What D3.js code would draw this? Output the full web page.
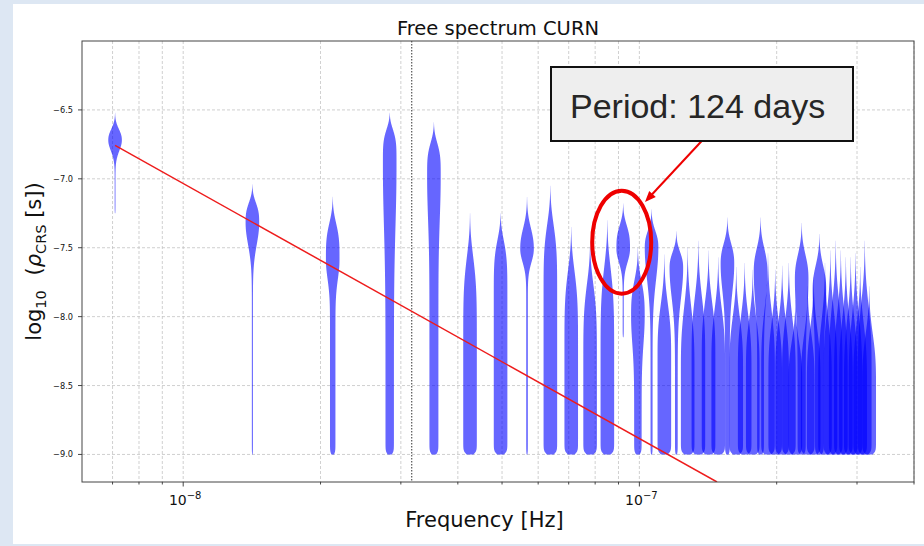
<!DOCTYPE html>
<html><head><meta charset="utf-8">
<script src="https://cdn.jsdelivr.net/npm/d3@7"></script>
<style>html,body{margin:0;padding:0;overflow:hidden;background:#dde7f3}</style>
</head><body><svg id="c" width="924" height="546"></svg>
<script>
// ---------------- data ----------------
const harmonics = [1,2,3,4,5,6,7,8,9,10,11,12,13,14,15,16,17,18,19,20,21,22,23,24,25,26,27,28,29,30,31,32,33,34,35,36,37,38,39,40,41,42,43,44,45];
const baseFrequency = 7.09e-9;                     // Hz, 1/T
// upper tip of each violin (log10 rho)
const tops = [-6.52,-7.04,-7.13,-6.52,-6.59,-7.25,-7.25,-7.13,-7.05,-7.35,-7.45,-7.30,-7.18,-7.50,-7.22,-7.55,-7.38,-7.50,-7.45,-7.52,-7.57,-7.28,-7.64,-7.61,-7.66,-7.28,-7.54,-7.66,-7.63,-7.61,-7.88,-7.32,-7.78,-7.71,-7.40,-7.61,-7.52,-7.45,-7.52,-7.57,-7.57,-7.54,-7.64,-7.45,-7.78];
// level of maximum width
const modes = [-6.72,-7.32,-7.59,-6.92,-6.99,-8.30,-7.95,-7.51,-7.90,-8.30,-8.40,-8.40,-7.51,-8.00,-7.50,-8.30,-7.65,-8.40,-8.30,-8.30,-8.35,-7.62,-8.40,-8.40,-8.40,-7.68,-8.40,-8.45,-8.45,-8.45,-8.50,-7.73,-8.50,-8.50,-7.81,-8.50,-8.45,-8.40,-8.45,-8.50,-8.50,-8.50,-8.50,-8.40,-8.50];
// flatness of the upper taper
const upperShape = [2.3,3.0,3.5,5.0,4.0,5.0,5.5,2.3,4.5,4.5,4.5,4.8,3.0,3.0,2.5,3.0,2.5,3.0,3.0,3.0,3.0,2.5,3.0,3.0,3.0,2.5,3.0,3.0,3.0,3.0,3.0,2.5,3.0,3.0,2.5,3.0,3.0,3.0,3.0,3.0,3.0,3.0,3.0,3.0,3.0];
// relative width of the lower tail (1 = stays full width down to the bottom)
const lowerWidth = [0.06,0.08,0.40,0.62,0.66,1,1,0.12,1,1,1,1,0.08,0.55,0.15,1,0.20,1,1,1,1,0.35,1,1,1,0.50,1,1,1,1,1,0.60,1,1,0.65,1,1,1,1,1,1,1,1,1,1];
// level where the lower tail has reached its width
const knees = [-6.95,-7.80,-8.00,-8.20,-7.90,-8.30,-7.95,-7.80,-7.90,-8.30,-8.40,-8.40,-7.80,-8.60,-8.20,-8.30,-8.30,-8.40,-8.30,-8.30,-8.35,-8.20,-8.40,-8.40,-8.40,-8.30,-8.40,-8.45,-8.45,-8.45,-8.50,-8.40,-8.50,-8.50,-8.40,-8.50,-8.45,-8.40,-8.45,-8.50,-8.50,-8.50,-8.50,-8.40,-8.50];
// lower end of each violin
const bottoms = [-7.25,-9.0,-9.0,-9.0,-9.0,-9.0,-9.0,-9.0,-9.0,-9.0,-9.0,-9.0,-8.15,-9.0,-9.0,-9.0,-9.0,-9.0,-9.0,-9.0,-9.0,-9.0,-9.0,-9.0,-9.0,-9.0,-9.0,-9.0,-9.0,-9.0,-9.0,-9.0,-9.0,-9.0,-9.0,-9.0,-9.0,-9.0,-9.0,-9.0,-9.0,-9.0,-9.0,-9.0,-9.0];

const yTicks = [-9.0,-8.5,-8.0,-7.5,-7.0,-6.5];
const xMajorTicks = [1e-8, 1e-7];
const xMajorExponents = [-8, -7];
const xMinorTicks = [7e-9,8e-9,9e-9,2e-8,3e-8,4e-8,5e-8,6e-8,7e-8,8e-8,9e-8,2e-7,3e-7,4e-7];
const yearFrequency = 3.17e-8;
const powerLawF = [7.09e-9, 1.48e-7];
const powerLawRho = [-6.758, -9.2];
const titleText = "Free spectrum CURN";
const xLabelText = "Frequency [Hz]";
const annotationText = "Period: 124 days";
const highlightHarmonic = 13;

// ---------------- layout ----------------
const W = 924, H = 546;
const L = 82, R = 914, T = 41, B = 482;
const svg = d3.select("#c");
const x = d3.scaleLog().domain([6e-9, 4e-7]).range([L, R]);
const y = d3.scaleLinear().domain([-9.2, -6.0]).range([B, T]);
const FONT = "DejaVu Sans, sans-serif";

svg.append("rect").attr("width", W).attr("height", H).attr("fill", "#dde7f3");
svg.append("rect").attr("x", 13).attr("y", 4).attr("width", W - 13).attr("height", 540).attr("fill", "#ffffff");

svg.append("defs").append("clipPath").attr("id", "plotclip")
  .append("rect").attr("x", L).attr("y", T).attr("width", R - L).attr("height", B - T);

// grid
const grid = svg.append("g").attr("stroke", "#c4c4c4").attr("stroke-width", 0.8).attr("stroke-dasharray", "3,2");
xMajorTicks.concat(xMinorTicks).forEach(f => {
  grid.append("line").attr("x1", x(f)).attr("x2", x(f)).attr("y1", T).attr("y2", B);
});
yTicks.forEach(v => {
  grid.append("line").attr("x1", L).attr("x2", R).attr("y1", y(v)).attr("y2", y(v));
});

// 1/yr line
svg.append("line").attr("x1", x(yearFrequency)).attr("x2", x(yearFrequency)).attr("y1", T).attr("y2", B)
  .attr("stroke", "#333").attr("stroke-width", 1).attr("stroke-dasharray", "1.5,1.5");

// violins
const halfW = 6.8;
function widthAt(i, v) {
  let w;
  if (v >= modes[i]) {
    const t = (v - modes[i]) / (tops[i] - modes[i]);
    w = Math.exp(-4.6 * Math.pow(t, upperShape[i]));
  } else {
    const lw = lowerWidth[i];
    if (lw >= 1) w = 1;
    else {
      const u = (modes[i] - v) / (modes[i] - knees[i]);
      w = lw + (1 - lw) * Math.exp(-4.6 * u * u);
    }
  }
  w *= 0.5 + 0.5 * Math.tanh((v - bottoms[i]) / 0.025);
  return w;
}
const vg = svg.append("g").attr("clip-path", "url(#plotclip)");
harmonics.forEach((k, i) => {
  const f = k * baseFrequency;
  const cx = x(f);
  const n = Math.ceil((tops[i] - bottoms[i]) / 0.004);
  const pts = d3.range(n + 1).map(j => {
    const v = bottoms[i] + (tops[i] - bottoms[i]) * j / n;
    return { v, w: widthAt(i, v) };
  });
  const area = d3.area().curve(d3.curveLinear)
    .y(d => y(d.v)).x0(d => cx - halfW * d.w).x1(d => cx + halfW * d.w);
  vg.append("path").attr("d", area(pts)).attr("fill", "#0000ff").attr("fill-opacity", 0.6);
});

// power law line
vg.append("path")
  .attr("d", d3.line().x(d => x(d[0])).y(d => y(d[1]))(powerLawF.map((f, i) => [f, powerLawRho[i]])))
  .attr("stroke", "#ee1c1c").attr("stroke-width", 1.5).attr("fill", "none");

// spines
svg.append("rect").attr("x", L).attr("y", T).attr("width", R - L).attr("height", B - T)
  .attr("fill", "none").attr("stroke", "#444").attr("stroke-width", 1);

// ticks
const tk = svg.append("g").attr("stroke", "#333").attr("stroke-width", 0.9);
yTicks.forEach(v => tk.append("line").attr("x1", L - 4).attr("x2", L).attr("y1", y(v)).attr("y2", y(v)));
xMajorTicks.forEach(f => tk.append("line").attr("x1", x(f)).attr("x2", x(f)).attr("y1", B).attr("y2", B + 4.5));
xMinorTicks.forEach(f => tk.append("line").attr("x1", x(f)).attr("x2", x(f)).attr("y1", B).attr("y2", B + 2.5));

const fmt = d3.format(".1f");
svg.append("g").selectAll("text").data(yTicks).join("text")
  .attr("x", L - 9).attr("y", d => y(d) + 3).attr("text-anchor", "end")
  .attr("font-family", FONT).attr("font-size", 8.2).attr("fill", "#111").text(d => fmt(d));

xMajorTicks.forEach((f, i) => {
  const t = svg.append("text").attr("x", x(f) + 2).attr("y", 505).attr("text-anchor", "middle")
    .attr("font-family", FONT).attr("font-size", 14).attr("fill", "#111");
  t.append("tspan").text("10");
  t.append("tspan").attr("dy", -6.5).attr("font-size", 10).text("\u2212" + Math.abs(xMajorExponents[i]));
});

// title & labels
svg.append("text").attr("x", (L + R) / 2).attr("y", 35).attr("text-anchor", "middle")
  .attr("font-family", FONT).attr("font-size", 19.5).attr("fill", "#111").text(titleText);
svg.append("text").attr("x", 484.5).attr("y", 527).attr("text-anchor", "middle")
  .attr("font-family", FONT).attr("font-size", 21).attr("fill", "#111").text(xLabelText);

const yl = svg.append("text").attr("transform", `translate(41,${(T + B) / 2}) rotate(-90)`)
  .attr("text-anchor", "middle").attr("font-family", FONT).attr("font-size", 21).attr("fill", "#111");
yl.append("tspan").text("log");
yl.append("tspan").attr("dy", 5).attr("font-size", 14.5).text("10");
yl.append("tspan").attr("dy", -5).text("\u2002\u2009(");
yl.append("tspan").attr("font-style", "italic").text("\u03c1");
yl.append("tspan").attr("dy", 5).attr("font-size", 14.5).text("CRS");
yl.append("tspan").attr("dy", -5).text(" [s])");

// annotation
const fh = highlightHarmonic * baseFrequency;
svg.append("ellipse").attr("cx", x(fh) - 1.5).attr("cy", y(-7.46)).attr("rx", 29.5).attr("ry", 51.5)
  .attr("fill", "none").attr("stroke", "#ee0000").attr("stroke-width", 4);

const ax0 = 701.7, ay0 = 141, ax1 = 645, ay1 = 202;
const dx = ax1 - ax0, dy = ay1 - ay0, len = Math.hypot(dx, dy), ux = dx / len, uy = dy / len;
const hl = 11, hw = 4.5;
svg.append("line").attr("x1", ax0).attr("y1", ay0).attr("x2", ax1 - ux * hl * 0.8).attr("y2", ay1 - uy * hl * 0.8)
  .attr("stroke", "#ee0000").attr("stroke-width", 2);
svg.append("path").attr("d", `M${ax1},${ay1} L${ax1 - ux * hl - uy * hw},${ay1 - uy * hl + ux * hw} L${ax1 - ux * hl + uy * hw},${ay1 - uy * hl - ux * hw} Z`)
  .attr("fill", "#ee0000");

svg.append("rect").attr("x", 551).attr("y", 67).attr("width", 302).attr("height", 74)
  .attr("fill", "#eeeeee").attr("stroke", "#111").attr("stroke-width", 2);
svg.append("text").attr("x", 570).attr("y", 118).attr("font-family", "Liberation Sans, Arial, sans-serif")
  .attr("font-size", 34).attr("fill", "#262626").text(annotationText);
</script></body></html>
